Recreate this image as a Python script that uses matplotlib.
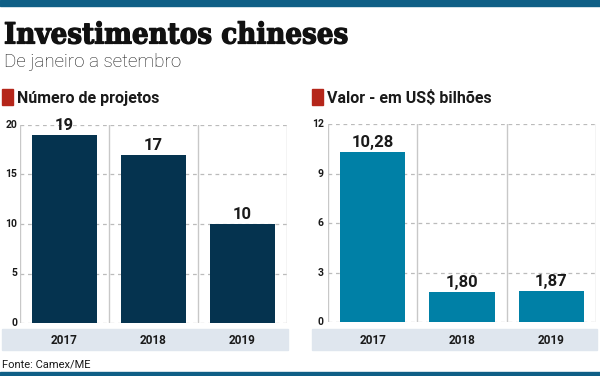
import matplotlib
matplotlib.use("Agg")
import matplotlib.pyplot as plt
from matplotlib.patches import Rectangle
import matplotlib.patheffects as pe

years = ["2017", "2018", "2019"]
projetos = [19, 17, 10]
valor = [10.28, 1.80, 1.87]
valor_labels = ["10,28", "1,80", "1,87"]
proj_ticks = [0, 5, 10, 15, 20]
valor_ticks = [0, 3, 6, 9, 12]

W, H = 600, 376
fig = plt.figure(figsize=(6, 3.76), dpi=100)
fig.patch.set_facecolor("white")

def fx(px):
    return px / W

def fy(py):
    return 1 - py / H

def rect(x0, y0, x1, y1, color):
    fig.patches.append(Rectangle((fx(x0), fy(y1)), fx(x1) - fx(x0), fy(y0) - fy(y1),
                                 transform=fig.transFigure, color=color, zorder=0))

# top and bottom bars
rect(0, 0, 600, 6, "#0f5f86")
rect(0, 372, 600, 376, "#0f5f86")

fig.text(fx(4), fy(35), "Investimentos chineses", fontsize=21, fontweight="bold",
         family="DejaVu Serif", fontstretch="condensed", va="center", ha="left", color="#111111",
         path_effects=[pe.withStroke(linewidth=0.9, foreground="#111111")])
fig.text(fx(4), fy(62), "De janeiro a setembro", fontsize=13.5, fontweight="light",
         family="Roboto", va="center", ha="left", color="#1a1a1a")

RED = "#b5261a"
TXT = "#1a1a1a"

def panel(x0, x1, y_top, y_bot, values, labels, ticks, ymax, color, title, sq_x, strip_x0, tick_x):
    rect(sq_x, 89, sq_x + 11, 105, RED)
    fig.text(fx(sq_x + 15), fy(98), title, fontsize=11.5, fontweight="bold", family="Roboto",
             va="center", ha="left", color=TXT)
    ax = fig.add_axes([fx(x0), fy(y_bot), fx(x1) - fx(x0), fy(y_top) - fy(y_bot)])
    xs = list(range(len(values)))
    ax.bar(xs, values, width=0.73, color=color, zorder=3)
    ax.set_xlim(-0.5, len(values) - 0.5)
    ax.set_ylim(0, ymax)
    for s in ax.spines.values():
        s.set_visible(False)
    ax.set_xticks([])
    ax.set_yticks(ticks)
    ax.set_yticklabels([])
    ax.tick_params(length=0)
    for t in ticks:
        ax.axhline(t, color="#bbbbbb", lw=0.9, ls=(0, (3, 3)), zorder=1)
    for xv in [-0.5, 0.5, 1.5, 2.5]:
        ax.axvline(xv, color="#c8c8c8", lw=1.0, zorder=1)
    for t in ticks:
        fig.text(fx(tick_x), fy(y_bot) + (fy(y_top) - fy(y_bot)) * t / ymax, str(t),
                 fontsize=7.5, fontweight="bold", family="Roboto", ha="right", va="center", color=TXT)
    for xv, v, lab in zip(xs, values, labels):
        ax.annotate(lab, (xv, v), xytext=(0, 1.5), textcoords="offset points",
                    ha="center", va="bottom", fontsize=12, fontweight="bold",
                    family="Roboto", color=TXT, zorder=4)
    rect(strip_x0, 329, x1 + 1, 350, "#dfe6ee")
    for xv, y in zip(xs, years):
        xp = x0 + (x1 - x0) * (xv + 0.5) / len(values)
        fig.text(fx(xp), fy(340), y, fontsize=8.5, fontweight="bold", family="Roboto",
                 ha="center", va="center", color=TXT)
    return ax

panel(20, 287, 125, 323, projetos, [str(v) for v in projetos], proj_ticks, 20, "#05334f",
      "Número de projetos", 2, 2, 17)
panel(328, 596, 124, 322, valor, valor_labels, valor_ticks, 12, "#0080a6",
      "Valor - em US$ bilhões", 312, 312, 324)

fig.text(fx(2), fy(365), "Fonte: Camex/ME", fontsize=8, family="Roboto", ha="left",
         va="center", color=TXT)

fig.savefig("out.png", dpi=100)
